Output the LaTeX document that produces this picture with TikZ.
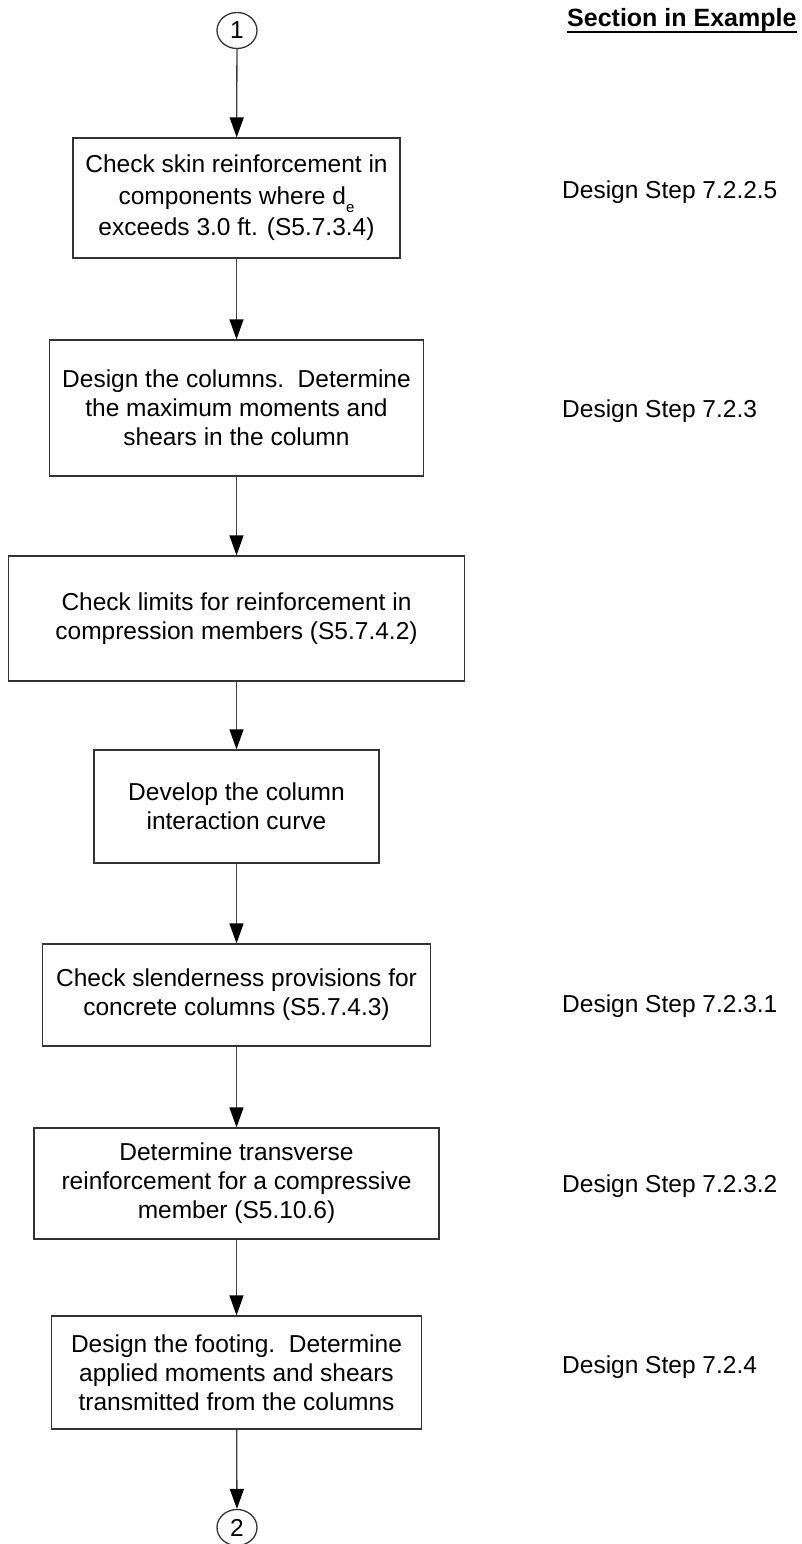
\documentclass[tikz,border=0pt]{standalone}
\usepackage{fontspec}
\setmainfont{Liberation Sans}
\usetikzlibrary{arrows.meta,shapes.geometric}
\begin{document}
\begin{tikzpicture}[x=1pt,y=-1pt,
  box/.style={draw=black!80, line width=1.3pt, align=center, inner sep=0pt, font=\fontsize{24.5}{29}\selectfont},
  conn/.style={ellipse, draw=black!80, line width=1.3pt, minimum width=40pt, minimum height=36pt, inner sep=0pt, font=\fontsize{24.5}{29}\selectfont},
  arr/.style={draw=black!75, line width=1.3pt, -{Triangle[length=20pt,width=14pt,color=black]}},
  lbl/.style={anchor=base west, inner sep=0pt, font=\fontsize{24.5}{29}\selectfont}]
\clip (0,0) rectangle (801,1544);
\node[conn] (c1) at (237,30.5) {1};
\node[box, minimum width=327pt, minimum height=120pt, font=\fontsize{24.5}{31.5}\selectfont] (b1) at (236.5,198)
  {Check skin reinforcement in\\components where d\raisebox{-0.35em}{\fontsize{15}{15}\selectfont e}\\exceeds 3.0 ft. (S5.7.3.4)};
\node[box, minimum width=374pt, minimum height=136pt] (b2) at (236.5,408)
  {Design the columns.\ \ Determine\\the maximum moments and\\shears in the column};
\node[box, minimum width=456pt, minimum height=125pt] (b3) at (236.5,618.5)
  {Check limits for reinforcement in\\compression members (S5.7.4.2)};
\node[box, minimum width=285pt, minimum height=113pt] (b4) at (236.5,806.5)
  {Develop the column\\interaction curve};
\node[box, minimum width=388pt, minimum height=102pt] (b5) at (236.5,995)
  {Check slenderness provisions for\\concrete columns (S5.7.4.3)};
\node[box, minimum width=405pt, minimum height=111pt] (b6) at (236.5,1183.5)
  {Determine transverse\\reinforcement for a compressive\\member (S5.10.6)};
\node[box, minimum width=370pt, minimum height=113pt] (b7) at (236.5,1372.5)
  {Design the footing.\ \ Determine\\applied moments and shears\\transmitted from the columns};
\node[conn] (c2) at (237,1527.5) {2};

\draw[arr] (c1) -- (b1);
\draw[arr] (b1) -- (b2);
\draw[arr] (b2) -- (b3);
\draw[arr] (b3) -- (b4);
\draw[arr] (b4) -- (b5);
\draw[arr] (b5) -- (b6);
\draw[arr] (b6) -- (b7);
\draw[arr] (b7) -- (c2);

\node[anchor=base west, inner sep=0pt, font=\bfseries\fontsize{25}{30}\selectfont] (hdr) at (567,27) {Section in Example};
\draw[line width=1.3pt] ([yshift=-5pt]hdr.base west) -- ([yshift=-5pt]hdr.base east);

\node[lbl] (l1) at (562,198) {Design Step 7.2.2.5};
\node[lbl] (l2) at (562,417) {Design Step 7.2.3};
\node[lbl] (l5) at (562,1012) {Design Step 7.2.3.1};
\node[lbl] (l6) at (562,1192) {Design Step 7.2.3.2};
\node[lbl] (l7) at (562,1373) {Design Step 7.2.4};
\end{tikzpicture}
\end{document}
